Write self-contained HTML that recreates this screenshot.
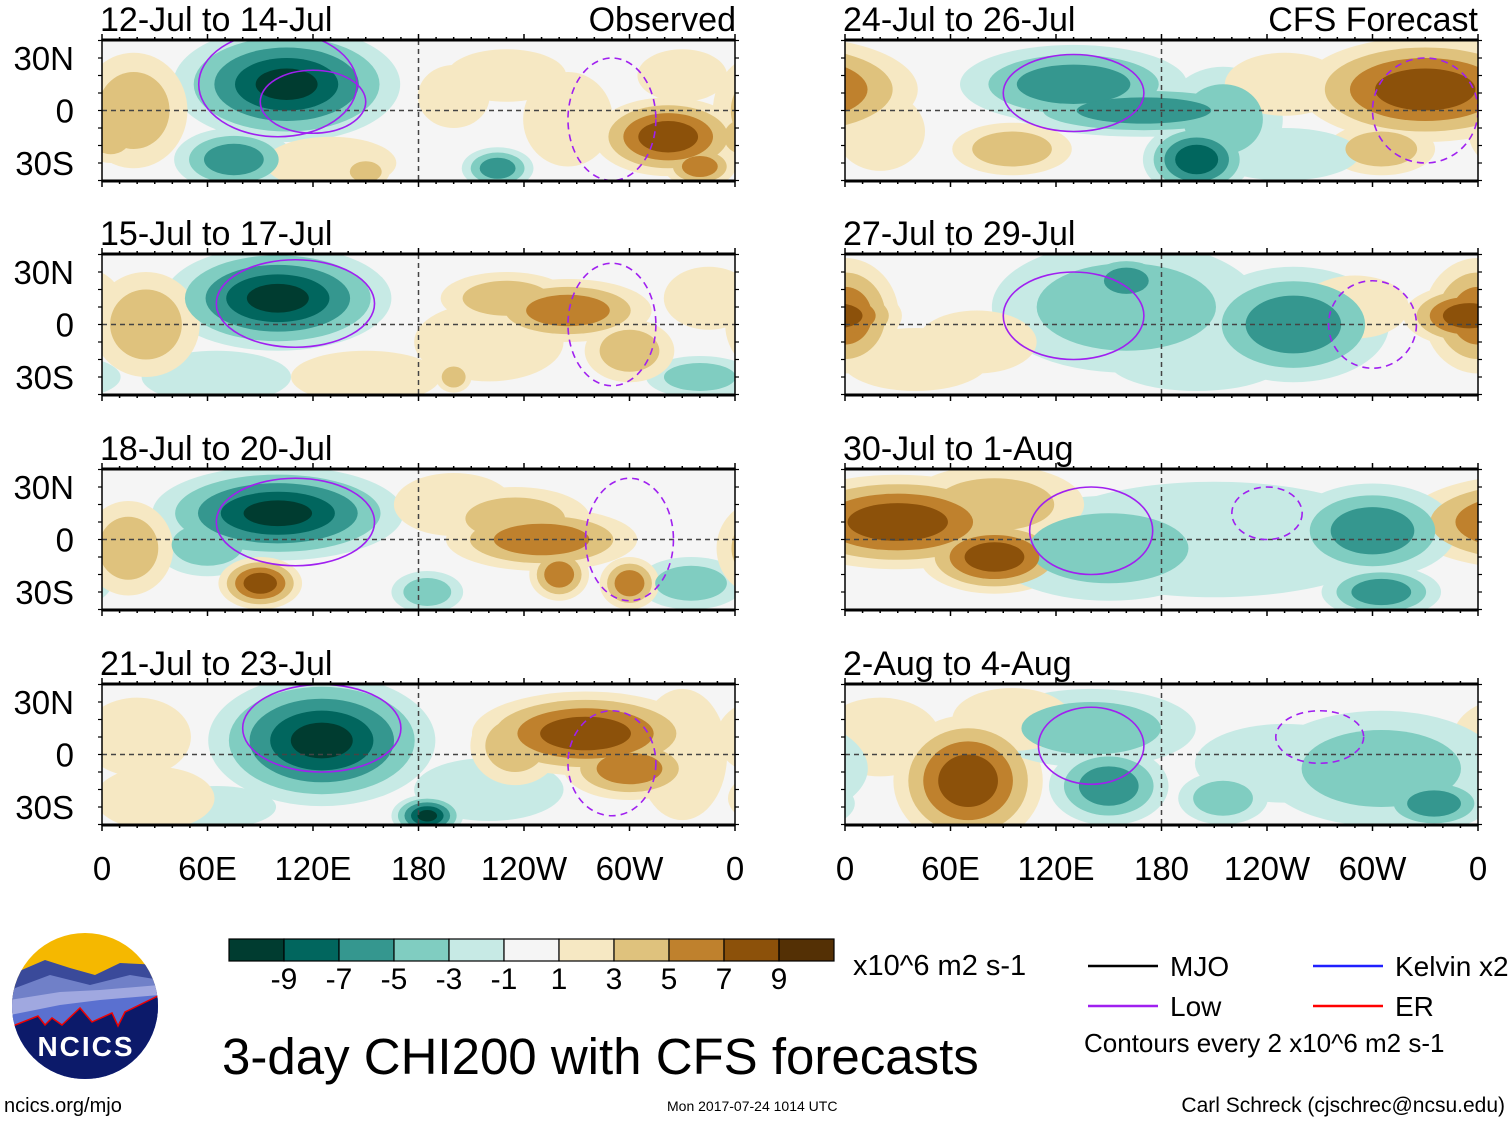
<!DOCTYPE html>
<html><head><meta charset="utf-8"><style>
html,body{margin:0;padding:0;background:#fff;}
svg{display:block;font-family:"Liberation Sans",sans-serif;}
</style></head><body>
<svg id="chart" width="1510" height="1121" viewBox="0 0 1510 1121" xmlns="http://www.w3.org/2000/svg">
<g id="panels"></g>
<g id="static"></g>
</svg>
<script>
// ---- data ----
const levels = [-9,-7,-5,-3,-1,1,3,5,7,9];
const levelColors = ["#003c30","#01665e","#35978f","#80cdc1","#c7eae5","#f5f5f5","#f6e8c3","#dfc27d","#bf812d","#8c510a","#543005"];
const colorbarLabels = ["-9","-7","-5","-3","-1","1","3","5","7","9"];
const lonTicks = [0,60,120,180,240,300,360];
const lonLabels = ["0","60E","120E","180","120W","60W","0"];
const latTicks = [30,0,-30];
const latLabels = ["30N","0","30S"];
const panelTitles = ["12-Jul to 14-Jul","15-Jul to 17-Jul","18-Jul to 20-Jul","21-Jul to 23-Jul","24-Jul to 26-Jul","27-Jul to 29-Jul","30-Jul to 1-Aug","2-Aug to 4-Aug"];
// blobs: [lon, lat, peak value, rx deg, ry deg]
const blobsP1 = [[105,15,-10,38,22],[75,-28,-7,20,12],[225,-33,-7,12,8],[18,0,5,18,22],[322,-15,9,25,15],[340,-32,7,12,8],[200,8,3,12,12],[265,-5,3,15,18],[130,-30,3,22,10],[150,-35,5,8,6],[5,-15,5,10,10],[230,20,2,20,10],[330,20,2,15,10]];
const blobsP2 = [[100,15,-10,38,20],[65,-30,-3,25,10],[340,-30,-5,18,8],[265,8,7,28,12],[230,15,5,22,10],[25,0,5,18,20],[300,-15,5,15,12],[200,-30,5,6,6],[345,15,3,15,12],[150,-30,3,25,10],[220,-10,2,25,15]];
const blobsP3 = [[100,15,-10,42,18],[60,-3,-5,18,12],[185,-30,-5,12,8],[335,-25,-5,18,10],[90,-25,9,14,10],[250,0,7,32,12],[235,12,5,25,12],[260,-20,7,10,10],[300,-25,7,10,10],[15,-5,5,15,18],[200,20,2,20,12]];
const blobsP4 = [[125,8,-10,38,25],[185,-35,-10,12,8],[65,-30,-3,20,8],[220,-20,-3,25,12],[275,12,9,38,16],[300,-8,7,22,12],[20,10,3,18,15],[330,0,3,15,25],[235,5,5,15,15],[30,-25,2,20,12]];
const blobsP5 = [[130,15,-7,38,15],[200,-28,-9,18,14],[170,0,-7,45,10],[215,-5,-5,20,20],[330,12,9,42,20],[305,-22,5,18,10],[95,-22,5,20,10],[20,-12,3,15,15],[250,15,3,20,12],[250,-25,-3,25,10]];
const blobsP6 = [[0,5,7,18,22],[355,5,9,22,12],[160,10,-5,45,25],[255,0,-7,32,22],[160,25,-7,15,10],[290,10,3,18,12],[75,-10,3,20,12],[200,-20,-3,30,12],[40,-20,2,25,12]];
const blobsP7 = [[30,10,9,42,18],[85,-10,9,25,14],[150,-5,-5,40,20],[300,5,-7,28,18],[305,-30,-7,20,10],[210,0,-3,60,22],[85,20,5,30,15]];
const blobsP8 = [[70,-15,9,25,25],[20,10,3,20,15],[150,-18,-7,20,15],[140,15,-5,35,15],[305,-8,-5,40,22],[335,-28,-7,18,10],[215,-25,-5,15,10],[95,20,3,20,12],[250,-5,-3,30,15]];
const allBlobs = [blobsP1,blobsP2,blobsP3,blobsP4,blobsP5,blobsP6,blobsP7,blobsP8];
// purple "Low" contours: [lon, lat, rx deg, ry deg, dashed]
const contoursP1 = [[100,15,45,30,0],[120,5,30,18,0],[290,-5,25,35,1]];
const contoursP2 = [[110,12,45,25,0],[290,0,25,35,1]];
const contoursP3 = [[110,10,45,25,0],[300,0,25,35,1]];
const contoursP4 = [[125,15,45,25,0],[290,-5,25,30,1]];
const contoursP5 = [[130,10,40,22,0],[330,0,30,30,1]];
const contoursP6 = [[130,5,40,25,0],[300,0,25,25,1]];
const contoursP7 = [[140,5,35,25,0],[240,15,20,15,1]];
const contoursP8 = [[140,5,30,22,0],[270,10,25,15,1]];
const allContours = [contoursP1,contoursP2,contoursP3,contoursP4,contoursP5,contoursP6,contoursP7,contoursP8];

// ---- layout ----
const NS = "http://www.w3.org/2000/svg";
const colX = [102,845], PW = 633;
const rowY = [40,254,469,684], PH = 141;
const SX = 1.7, SY = 1.5;
function mk(tag, attrs, parent){const e=document.createElementNS(NS,tag);for(const k in attrs)e.setAttribute(k,attrs[k]);if(parent)parent.appendChild(e);return e;}
function colorFor(v){let i=0;while(i<levels.length&&v>levels[i])i++;return levelColors[i];}
const panels = document.getElementById("panels");
const defs = mk("defs",{},panels);

for(let p=0;p<8;p++){
  const x0 = colX[p<4?0:1], y0 = rowY[p%4];
  const xs = lon=>x0+lon/360*PW;
  const ys = lat=>y0+PH/2 - lat*1.75;
  const cp = mk("clipPath",{id:"cp"+p},defs);
  mk("rect",{x:x0,y:y0,width:PW,height:PH},cp);
  const g = mk("g",{"clip-path":"url(#cp"+p+")"},panels);
  
  
  mk("rect",{x:x0,y:y0,width:PW,height:PH,fill:"#f5f5f5"},g);
  const blobs = allBlobs[p];
  const layerLevels = [1,3,5,7,9];
  for(const L of layerLevels){
    for(const b of blobs){
      const [lon,lat,v,rx,ry]=b;
      const a=Math.abs(v); if(a<=L) continue;
      const f=1-(L-1)/(a+1);
      const val = Math.sign(v)*(L+1);
      for(const sh of [-360,0,360]){
        const e=mk("ellipse",{cx:xs(lon+sh),cy:ys(lat),rx:rx*f*1.758*SX,ry:ry*f*1.75*SY,fill:colorFor(val)},g);
        
        
      }
    }
  }
  mk("line",{x1:x0,x2:x0+PW,y1:ys(0),y2:ys(0),stroke:"#444","stroke-width":1.5,"stroke-dasharray":"5,4"},g);
  mk("line",{x1:xs(180),x2:xs(180),y1:y0,y2:y0+PH,stroke:"#444","stroke-width":1.5,"stroke-dasharray":"5,4"},g);
  for(const c of allContours[p]){
    const e=mk("ellipse",{cx:xs(c[0]),cy:ys(c[1]),rx:c[2]*1.758,ry:c[3]*1.75,fill:"none",stroke:"#a020f0","stroke-width":1.6},g);
    if(c[4]) e.setAttribute("stroke-dasharray","7,5");
    
    
  }
  mk("rect",{x:x0,y:y0,width:PW,height:PH,fill:"none",stroke:"#000","stroke-width":1.5},panels);
  mk("line",{x1:x0,x2:x0+PW,y1:y0,y2:y0,stroke:"#000","stroke-width":3},panels);
  mk("line",{x1:x0,x2:x0+PW,y1:y0+PH,y2:y0+PH,stroke:"#000","stroke-width":3},panels);
  for(let lon=0;lon<=360;lon+=10){
    const len = lon%60===0?6:3;
    mk("line",{x1:xs(lon),x2:xs(lon),y1:y0-len,y2:y0,stroke:"#000","stroke-width":1.5},panels);
    mk("line",{x1:xs(lon),x2:xs(lon),y1:y0+PH,y2:y0+PH+len,stroke:"#000","stroke-width":1.5},panels);
  }
  for(const lat of [40,30,20,10,0,-10,-20,-30,-40]){
    mk("line",{x1:x0-4,x2:x0,y1:ys(lat),y2:ys(lat),stroke:"#000","stroke-width":1.2},panels);
    mk("line",{x1:x0+PW,x2:x0+PW+4,y1:ys(lat),y2:ys(lat),stroke:"#000","stroke-width":1.2},panels);
  }
  const t=mk("text",{x:x0-2,y:y0-9,"font-size":34},panels); t.textContent=panelTitles[p];
  
  
  if(p<4){
    for(let i=0;i<latTicks.length;i++){
      const l=mk("text",{x:74,y:ys(latTicks[i])+12,"font-size":33,"text-anchor":"end"},panels); l.textContent=latLabels[i];
      
      
    }
  }
}
for(const x0 of colX){
  for(let i=0;i<lonTicks.length;i++){
    const l=mk("text",{x:x0+lonTicks[i]/360*PW,y:880,"font-size":33,"text-anchor":"middle"},panels); l.textContent=lonLabels[i];
    
    
  }
}
const st=document.getElementById("static");
const o=mk("text",{x:736,y:31,"font-size":34,"text-anchor":"end"},st);o.textContent="Observed";

const f=mk("text",{x:1478,y:31,"font-size":34,"text-anchor":"end"},st);f.textContent="CFS Forecast";

const cb=mk("g",{},st);

for(let i=0;i<levelColors.length;i++){
  mk("rect",{x:229+i*55,y:939,width:55,height:22,fill:levelColors[i],stroke:"#000","stroke-width":1.2},cb);
}
for(let i=0;i<colorbarLabels.length;i++){
  const l=mk("text",{x:229+(i+1)*55,y:989,"font-size":30,"text-anchor":"middle"},cb);l.textContent=colorbarLabels[i];
}
const lg=[["MJO","#000",1088,966],["Low","#a020f0",1088,1006],["Kelvin x2","#2020ff",1313,966],["ER","#ff0000",1313,1006]];
for(const [n,c,x,y] of lg){
  mk("line",{x1:x,x2:x+70,y1:y,y2:y,stroke:c,"stroke-width":2.5},st);
  const t=mk("text",{x:x+82,y:y+10,"font-size":28},st);t.textContent=n;
  
}
</script>
<script>
const S=document.getElementById("static");
S.insertAdjacentHTML("beforeend",`
<text x="853" y="975" font-size="29">x10^6 m2 s-1</text>
<text x="1084" y="1052" font-size="26">Contours every 2 x10^6 m2 s-1</text>
<text x="222" y="1074" font-size="51">3-day CHI200 with CFS forecasts</text>
<text x="4" y="1112" font-size="20">ncics.org/mjo</text>
<text x="667" y="1111" font-size="14">Mon 2017-07-24 1014 UTC</text>
<text x="1505" y="1112" font-size="21" text-anchor="end">Carl Schreck (cjschrec@ncsu.edu)</text>
<g>
<clipPath id="logoclip"><circle cx="85" cy="1006" r="73"/></clipPath>
<g clip-path="url(#logoclip)">
<rect x="10" y="930" width="150" height="160" fill="#f5b800"/>
<path d="M10 975 L45 960 L70 968 L95 975 L120 963 L160 965 L160 1090 L10 1090Z" fill="#3a4a9a"/>
<path d="M10 990 L50 975 L90 985 L130 975 L160 980 L160 1090 L10 1090Z" fill="#7080c8"/>
<path d="M10 1000 L60 992 L100 990 L160 985 L160 1090 L10 1090Z" fill="#a0a8e0"/>
<path d="M10 1015 L60 1005 L100 1000 L160 995 L160 1090 L10 1090Z" fill="#5a70d0"/>
<path d="M10 1027 L38 1016 L45 1025 L52 1018 L62 1025 L80 1008 L92 1022 L112 1013 L118 1026 L125 1012 L160 995 L160 1090 L10 1090Z" fill="#0c1a6a" stroke="#e00" stroke-width="1.5"/>
</g>
<text x="86" y="1056" font-size="28" font-weight="bold" fill="#fff" text-anchor="middle" letter-spacing="2">NCICS</text>
</g>`);
</script>
</body></html>
